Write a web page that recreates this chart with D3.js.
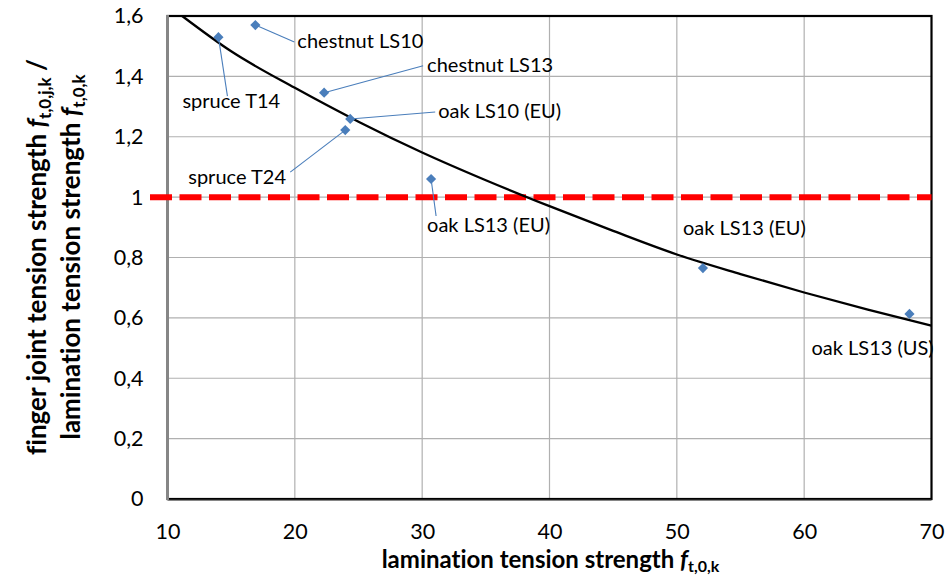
<!DOCTYPE html>
<html><head><meta charset="utf-8">
<script src="https://cdn.jsdelivr.net/npm/d3@7"></script>
<style>
body{margin:0;background:#fff}
svg text{font-family:Lato, "Open Sans", sans-serif;fill:#000;font-variant-ligatures:none;font-feature-settings:"liga" 0}
</style>
</head><body>
<svg id="chart" width="948" height="576"></svg>
<script>
// ---- data ----
const pointNames = ["spruce T14","chestnut LS10","chestnut LS13","oak LS10 (EU)","spruce T24","oak LS13 (EU)","oak LS13 (EU)","oak LS13 (US)"];
const laminationStrength = [14.0, 16.9, 22.3, 24.35, 23.96, 30.7, 52.05, 68.27];
const strengthRatio = [1.530, 1.570, 1.346, 1.259, 1.222, 1.060, 0.765, 0.613];
const trendX = [11.15, 15, 20, 25, 30, 35, 40, 45, 50, 55, 60, 65, 70];
const trendY = [1.60, 1.483, 1.362, 1.250, 1.148, 1.056, 0.970, 0.888, 0.810, 0.745, 0.684, 0.627, 0.574];
const xTicks = [10, 20, 30, 40, 50, 60, 70];
const yTicks = [0, 0.2, 0.4, 0.6, 0.8, 1, 1.2, 1.4, 1.6];
const referenceRatio = 1;

// ---- layout (label offsets from the point, px: text left / vertical centre; leader end) ----
const labelOffsets = [[-36,64],[42,16],[103,-28],[88,-8],[-157,47],[-4,46],[-20,-40],[-98,34]];
const leaderEnds = [[9,59],[39,17],[99,-27],[85,-7],[-55,42],[5,37],null,null];

const svg = d3.select("#chart");
const L = 167.5, R = 931.5, T = 16, B = 499;
const x = d3.scaleLinear().domain([10, 70]).range([L, R]);
const y = d3.scaleLinear().domain([0, 1.6]).range([B, T]);
const loc = d3.formatLocale({decimal: ",", thousands: ".", grouping: [3], currency: ["", ""]});
const fmt = loc.format("~f");

// grid
svg.append("g").selectAll("line").data(xTicks.slice(1, -1)).join("line")
  .attr("x1", d => x(d)).attr("x2", d => x(d)).attr("y1", T).attr("y2", B)
  .attr("stroke", "#b0b0b0").attr("stroke-width", 1.2);
svg.append("g").selectAll("line").data(yTicks.slice(1, -1)).join("line")
  .attr("x1", L).attr("x2", R).attr("y1", d => y(d)).attr("y2", d => y(d))
  .attr("stroke", "#b0b0b0").attr("stroke-width", 1.2);

// border
svg.append("rect").attr("x", L).attr("y", T).attr("width", R - L).attr("height", B - T)
  .attr("fill", "none").attr("stroke", "#000").attr("stroke-width", 2.2);
svg.append("line").attr("x1", L).attr("x2", L).attr("y1", T - 1).attr("y2", B + 1)
  .attr("stroke", "#868686").attr("stroke-width", 3);
svg.append("line").attr("x1", L).attr("x2", R).attr("y1", B + 1.3).attr("y2", B + 1.3)
  .attr("stroke", "#868686").attr("stroke-width", 1.2);

// axes (labels only)
const yAxis = svg.append("g").attr("transform", `translate(${L},0)`)
  .call(d3.axisLeft(y).tickValues(yTicks).tickFormat(fmt).tickSize(0).tickPadding(24));
const xAxis = svg.append("g").attr("transform", `translate(0,${B})`)
  .call(d3.axisBottom(x).tickValues(xTicks).tickFormat(fmt).tickSize(0).tickPadding(25));
[yAxis, xAxis].forEach(g => {
  g.select(".domain").remove();
  g.selectAll("text").attr("font-size", 21.5).style("font-family", "Lato, sans-serif").attr("fill", "#000");
});

// reference line at ratio 1
svg.append("line").attr("x1", 150).attr("x2", R).attr("y1", y(referenceRatio)).attr("y2", y(referenceRatio))
  .attr("stroke", "#ff0000").attr("stroke-width", 6).attr("stroke-dasharray", "22,7.5");

// trend curve
const trend = trendX.map((v, i) => [v, trendY[i]]);
svg.append("path").datum(trend)
  .attr("d", d3.line().x(d => x(d[0])).y(d => y(d[1])).curve(d3.curveMonotoneX))
  .attr("fill", "none").attr("stroke", "#000").attr("stroke-width", 2.3);

// points
const pts = pointNames.map((n, i) => ({name: n, px: x(laminationStrength[i]), py: y(strengthRatio[i]), off: labelOffsets[i], lead: leaderEnds[i]}));

svg.append("g").selectAll("line").data(pts.filter(d => d.lead)).join("line")
  .attr("x1", d => d.px).attr("y1", d => d.py)
  .attr("x2", d => d.px + d.lead[0]).attr("y2", d => d.py + d.lead[1])
  .attr("stroke", "#4A7EBB").attr("stroke-width", 1.1);

svg.append("g").selectAll("path").data(pts).join("path")
  .attr("d", d3.symbol(d3.symbolSquare, 52))
  .attr("transform", d => `translate(${d.px},${d.py}) rotate(45)`)
  .attr("fill", "#4A7EBB");

svg.append("g").selectAll("text").data(pts).join("text")
  .attr("x", d => d.px + d.off[0]).attr("y", d => d.py + d.off[1])
  .attr("dy", "0.36em").attr("font-size", 20)
  .text(d => d.name);

// axis titles
const xt = svg.append("text").attr("x", (L + R) / 2 + 1).attr("y", 567.5)
  .attr("text-anchor", "middle").attr("font-size", 24).attr("font-weight", "bold");
xt.append("tspan").text("lamination tension strength ");
xt.append("tspan").attr("font-style", "italic").text("f");
xt.append("tspan").attr("font-size", 16).attr("dy", 4).text("t,0,k");

const y1t = svg.append("text").attr("transform", "rotate(-90)").attr("x", -257).attr("y", 46)
  .attr("text-anchor", "middle").attr("font-size", 26).attr("font-weight", "bold");
y1t.append("tspan").text("finger joint tension strength ");
y1t.append("tspan").attr("font-style", "italic").text("f");
y1t.append("tspan").attr("font-size", 17).attr("dy", 4.5).text("t,0,j,k");
y1t.append("tspan").attr("dy", -4.5).text(" /");
const y2t = svg.append("text").attr("transform", "rotate(-90)").attr("x", -257).attr("y", 80)
  .attr("text-anchor", "middle").attr("font-size", 26).attr("font-weight", "bold");
y2t.append("tspan").text("lamination tension strength ");
y2t.append("tspan").attr("font-style", "italic").text("f");
y2t.append("tspan").attr("font-size", 17).attr("dy", 4.5).text("t,0,k");
</script>
</body></html>
